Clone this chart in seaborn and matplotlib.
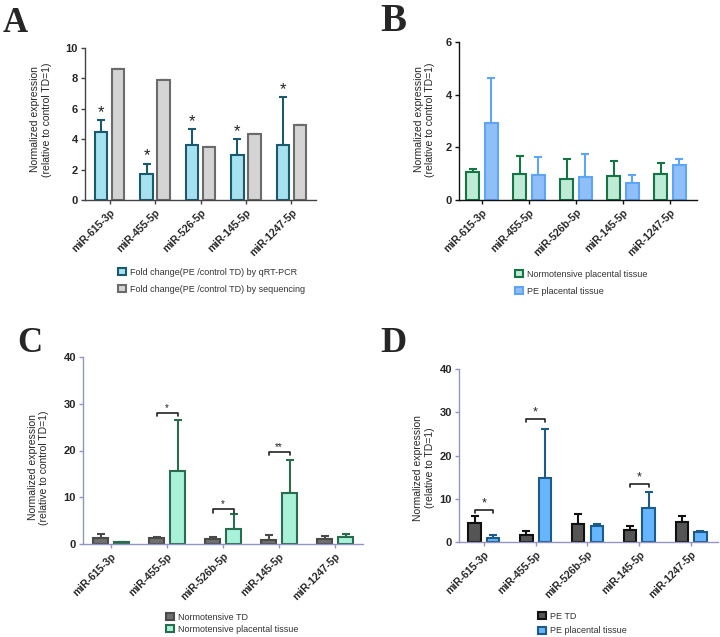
import numpy as np
import pandas as pd
import matplotlib
matplotlib.use("Agg")
import matplotlib.pyplot as plt
from matplotlib.patches import Patch
import seaborn as sns

# ---------------- data ----------------
mirs_A = ['miR-615-3p', 'miR-455-5p', 'miR-526-5p', 'miR-145-5p', 'miR-1247-5p']
mirs_BCD = ['miR-615-3p', 'miR-455-5p', 'miR-526b-5p', 'miR-145-5p', 'miR-1247-5p']

A_groups = ['Fold change(PE /control TD) by qRT-PCR', 'Fold change(PE /control TD) by sequencing']
A_qpcr = [4.45, 1.70, 3.65, 2.95, 3.60]
A_qpcr_top = [5.26, 2.40, 4.69, 4.00, 6.75]
A_seq = [8.62, 7.88, 3.47, 4.35, 4.93]
A_stars = ['*', '*', '*', '*', '*']

B_groups = ['Normotensive placental tissue', 'PE placental tissue']
B_norm = [1.08, 0.99, 0.78, 0.91, 0.99]
B_norm_top = [1.18, 1.68, 1.54, 1.49, 1.42]
B_pe = [2.92, 0.95, 0.86, 0.63, 1.34]
B_pe_top = [4.63, 1.62, 1.75, 0.96, 1.54]

C_groups = ['Normotensive TD', 'Normotensive placental tissue']
C_td = [1.20, 1.20, 1.14, 0.93, 1.14]
C_td_top = [2.10, 1.40, 1.60, 1.86, 1.70]
C_pl = [0.36, 15.7, 3.30, 11.0, 1.50]
C_pl_top = [0.40, 26.6, 6.40, 18.0, 2.10]
C_sig_idx = [1, 2, 3]
C_sig_y = [28.1, 7.4, 19.7]
C_sig_txt = ['*', '*', '**']

D_groups = ['PE TD', 'PE placental tissue']
D_td = [4.30, 1.70, 4.16, 2.85, 4.60]
D_td_top = [5.90, 2.60, 6.40, 3.60, 6.00]
D_pl = [1.00, 14.9, 3.70, 7.80, 2.20]
D_pl_top = [1.70, 26.1, 4.10, 11.5, 2.60]
D_sig_idx = [0, 1, 3]
D_sig_y = [7.5, 28.5, 13.5]
D_sig_txt = ['*', '*', '*']

ylabel_ctrl = 'Normalized expression\n(relative to control TD=1)'
ylabel_td = 'Normalized expression\n(relative to TD=1)'

# ---------------- style ----------------
sns.set_style('ticks')
plt.rcParams['font.family'] = ['Liberation Sans', 'DejaVu Sans']

W, H = 720, 637
fig = plt.figure(figsize=(W / 100, H / 100), dpi=100)


def axes_px(left, top, right, bottom):
    return fig.add_axes([left / W, 1 - bottom / H, (right - left) / W, (bottom - top) / H])


def panel(ax, cats, groups, vals, tops, fills, edges, width, gap, xlim, ylim, yticks,
          spine_color, ylabel, ylab_x, ylab_y):
    df = pd.DataFrame({
        'mir': list(cats) * 2,
        'group': [groups[0]] * len(cats) + [groups[1]] * len(cats),
        'value': list(vals[0]) + list(vals[1]),
    })
    sns.barplot(data=df, x='mir', y='value', hue='group', hue_order=groups,
                palette=fills, saturation=1, width=width, gap=gap, errorbar=None,
                linewidth=1.5, legend=False, ax=ax)
    centers = []
    for cont, ec, tp in zip(ax.containers, edges, tops):
        xs, hs = [], []
        for bar in cont:
            bar.set_edgecolor(ec)
            bar.set_zorder(2)
            xs.append(bar.get_x() + bar.get_width() / 2)
            hs.append(bar.get_height())
        hs = np.array(hs)
        ax.errorbar(xs, hs, yerr=[np.zeros(len(hs)), np.array(tp) - hs], fmt='none',
                    ecolor=ec, elinewidth=1.5, capsize=3, capthick=1.5, zorder=1.5)
        centers.append(xs)
    ax.set_xlim(*xlim)
    ax.set_ylim(*ylim)
    ax.set_yticks(yticks)
    ax.set_yticklabels([str(t) for t in yticks], fontsize=8, fontweight='bold')
    ax.set_xticks(range(len(cats)))
    ax.set_xticklabels(cats, rotation=45, ha='right', rotation_mode='anchor',
                       fontsize=7.5, fontweight='bold')
    ax.set_xlabel('')
    ax.set_ylabel(ylabel, fontsize=7.5)
    ax.yaxis.set_label_coords(ylab_x, ylab_y)
    for s in ['top', 'right']:
        ax.spines[s].set_visible(False)
    for s in ['left', 'bottom']:
        ax.spines[s].set_color(spine_color)
        ax.spines[s].set_linewidth(1)
    ax.tick_params(axis='both', length=3, width=1, color=spine_color, pad=2)
    ax.set_facecolor('none')
    return centers


def legend(ax, groups, fills, edges, x, y, spacing):
    handles = [Patch(facecolor=f, edgecolor=e, linewidth=1.5) for f, e in zip(fills, edges)]
    ax.legend(handles, groups, loc='upper left', bbox_to_anchor=(x / W, 1 - y / H),
              bbox_transform=fig.transFigure, frameon=False, fontsize=6.5,
              handlelength=0.9, handleheight=0.9, handletextpad=0.5,
              labelspacing=spacing, borderpad=0, labelcolor='#333333')


def bracket(ax, x1, x2, y, txt, d, fs):
    ax.plot([x1, x1, x2, x2], [y - d, y, y, y - d], color='#222222', lw=1.2, zorder=3)
    ax.annotate(txt, xy=((x1 + x2) / 2, y), xytext=(0, 0), textcoords='offset points',
                ha='center', va='bottom', fontsize=fs, color='#222222')


# ---------------- Panel A ----------------
axA = axes_px(85, 48, 316, 200)
A_fill = ['#a6e1f0', '#d4d4d4']
A_edge = ['#1b5a6e', '#6b6b6b']
cA = panel(axA, mirs_A, A_groups, [A_qpcr, A_seq], [A_qpcr_top, A_seq], A_fill, A_edge,
           0.75, 0.28, (-0.54, 4.54), (0, 10), [0, 2, 4, 6, 8, 10], '#444444',
           ylabel_ctrl, -0.143, 0.53)
for xc, top, s in zip(cA[0], A_qpcr_top, A_stars):
    axA.annotate(s, xy=(xc, top), xytext=(0, 0), textcoords='offset points',
                 ha='center', va='bottom', fontsize=12, color='#222222')
legend(axA, A_groups, A_fill, A_edge, 113, 263, 0.9)

# ---------------- Panel B ----------------
axB = axes_px(459, 42, 697, 200)
B_fill = ['#bdebd6', '#8fbff7']
B_edge = ['#157445', '#5ea6f5']
panel(axB, mirs_BCD, B_groups, [B_norm, B_pe], [B_norm_top, B_pe_top], B_fill, B_edge,
      0.79, 0.31, (-0.49, 4.57), (0, 6), [0, 2, 4, 6], '#111111',
      ylabel_ctrl, -0.10, 0.51)
legend(axB, B_groups, B_fill, B_edge, 510, 265, 0.9)

# ---------------- Panel C ----------------
axC = axes_px(83, 357, 363, 544)
C_fill = ['#6f6f6f', '#a8f2da']
C_edge = ['#4a4a4a', '#2b6b4e']
cC = panel(axC, mirs_BCD, C_groups, [C_td, C_pl], [C_td_top, C_pl_top], C_fill, C_edge,
           0.75, 0.28, (-0.5, 4.5), (0, 40), [0, 10, 20, 30, 40], '#9494c4',
           ylabel_ctrl, -0.12, 0.41)
for i, yv, t in zip(C_sig_idx, C_sig_y, C_sig_txt):
    bracket(axC, cC[0][i], cC[1][i], yv, t, 0.7, 7)
legend(axC, C_groups, C_fill, C_edge, 161, 608, 0.35)

# ---------------- Panel D ----------------
axD = axes_px(459, 369, 718, 542)
D_fill = ['#555555', '#66b6ff']
D_edge = ['#111111', '#1d5c8a']
cD = panel(axD, mirs_BCD, D_groups, [D_td, D_pl], [D_td_top, D_pl_top], D_fill, D_edge,
           0.715, 0.33, (-0.48, 4.52), (0, 40), [0, 10, 20, 30, 40], '#9494c4',
           ylabel_td, -0.093, 0.43)
for i, yv, t in zip(D_sig_idx, D_sig_y, D_sig_txt):
    bracket(axD, cD[0][i], cD[1][i], yv, t, 0.8, 9)
legend(axD, D_groups, D_fill, D_edge, 533, 607, 0.65)

# ---------------- panel letters ----------------
for letter, x, yb, fs in [('A', 3, 32, 25), ('B', 380, 31, 28), ('C', 17, 352, 25), ('D', 380, 352, 26)]:
    fig.text(x / W, 1 - yb / H, letter, fontsize=fs, fontweight='bold',
             family=['Liberation Serif', 'DejaVu Serif'], ha='left', va='baseline')

fig.savefig('out.png', dpi=100)
